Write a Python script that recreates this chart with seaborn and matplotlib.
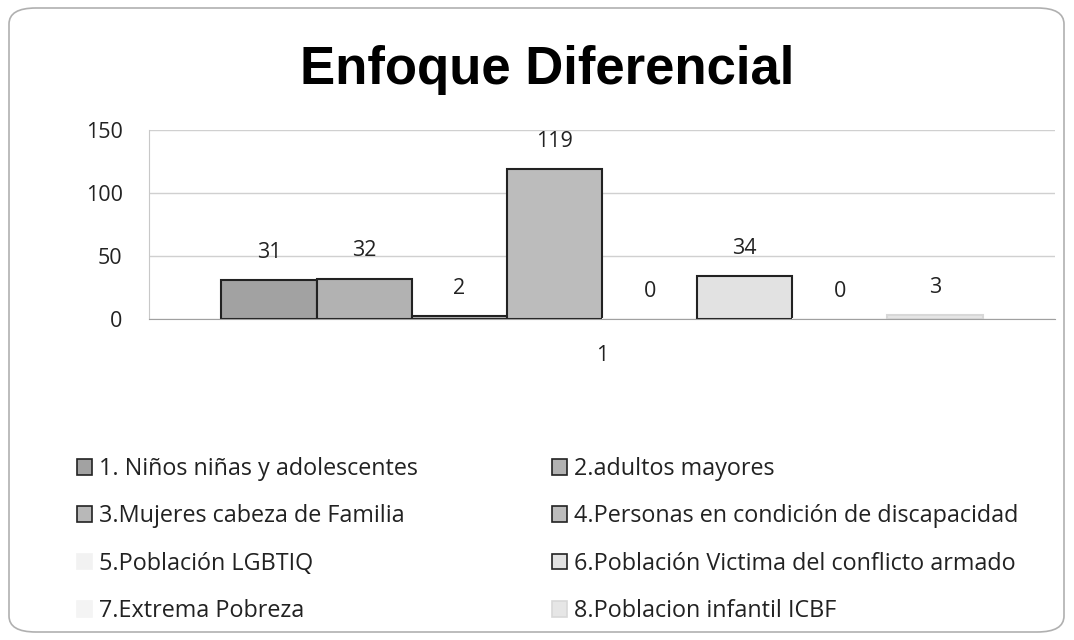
import pandas as pd
import matplotlib.pyplot as plt
import seaborn as sns
from matplotlib.patches import FancyBboxPatch

# data
categorias = ['1. Niños niñas y adolescentes', '2.adultos mayores',
              '3.Mujeres cabeza de Familia', '4.Personas en condición de discapacidad',
              '5.Población LGBTIQ', '6.Población Victima del conflicto armado',
              '7.Extrema Pobreza', '8.Poblacion infantil ICBF']
valores = [31, 32, 2, 119, 0, 34, 0, 3]
eje_x = ['1'] * len(categorias)

colores = ['#a2a2a2', '#b2b2b2', '#b8b8b8', '#bcbcbc', '#f2f2f2', '#e2e2e2', '#f4f4f4', '#e6e6e6']
bordes = ['#222222', '#222222', '#222222', '#222222', '#f2f2f2', '#222222', '#f4f4f4', '#d8d8d8']

df = pd.DataFrame({'x': eje_x, 'serie': categorias, 'valor': valores})

sns.set_style('white')
plt.rcParams['font.family'] = ['Open Sans', 'DejaVu Sans']

fig = plt.figure(figsize=(10.74, 6.4), dpi=100)
ax = fig.add_axes([149/1074, 1 - 319/640, (1055-149)/1074, (319-130)/640])

sns.barplot(data=df, x='x', y='valor', hue='serie', palette=colores,
            width=0.84, gap=0, ax=ax, legend=False)

for i, p in enumerate(ax.patches[:len(categorias)]):
    p.set_edgecolor(bordes[i])
    p.set_linewidth(1.5)
    ax.annotate(str(valores[i]), (p.get_x() + p.get_width()/2, p.get_height()),
                xytext=(0, 20), textcoords='offset points',
                ha='center', va='center', fontsize=15.5, color='#222222')

ax.set_xlim(-0.5, 0.5)
ax.set_ylim(0, 150)
ax.set_yticks([0, 50, 100, 150])
ax.yaxis.grid(True, color='#d0d0d0', linewidth=1)
ax.set_axisbelow(True)
for s in ['top', 'right']:
    ax.spines[s].set_visible(False)
ax.spines['left'].set_color('#c8c8c8')
ax.spines['bottom'].set_color('#a0a0a0')
ax.tick_params(axis='y', labelsize=15.5, length=0, pad=19, colors='#222222')
ax.tick_params(axis='x', labelsize=15.5, length=0, pad=19, colors='#222222')
ax.set_xlabel('')
ax.set_ylabel('')

# title
fig.text(547/1074, 1 - 84/640, 'Enfoque Diferencial', ha='center', va='baseline',
         fontsize=38, fontweight='bold', color='black',
         family=['Liberation Sans', 'DejaVu Sans'])

# legend (two columns, row order)
def hacer_leyenda(indices, x0):
    handles = [plt.Rectangle((0, 0), 1, 1, facecolor=colores[i], edgecolor=bordes[i], linewidth=1.2)
               for i in indices]
    leg = fig.legend(handles, [categorias[i] for i in indices], loc='upper left',
                     bbox_to_anchor=(x0/1074, 1 - 457/640), frameon=False, fontsize=16.8,
                     handlelength=0.65, handleheight=0.65, handletextpad=0.3,
                     labelspacing=1.0, borderpad=0, borderaxespad=0)
    for t in leg.get_texts():
        t.set_color('#222222')
    return leg

hacer_leyenda([0, 2, 4, 6], 77)
hacer_leyenda([1, 3, 5, 7], 552)

# marco redondeado
fig.patches.append(FancyBboxPatch((9/1074, 8/640), 1055/1074, 624/640,
                                  boxstyle='round,pad=0,rounding_size=0.025',
                                  transform=fig.transFigure, facecolor='none',
                                  edgecolor='#b0b0b0', linewidth=1.2))

fig.savefig('out.png', dpi=100)
